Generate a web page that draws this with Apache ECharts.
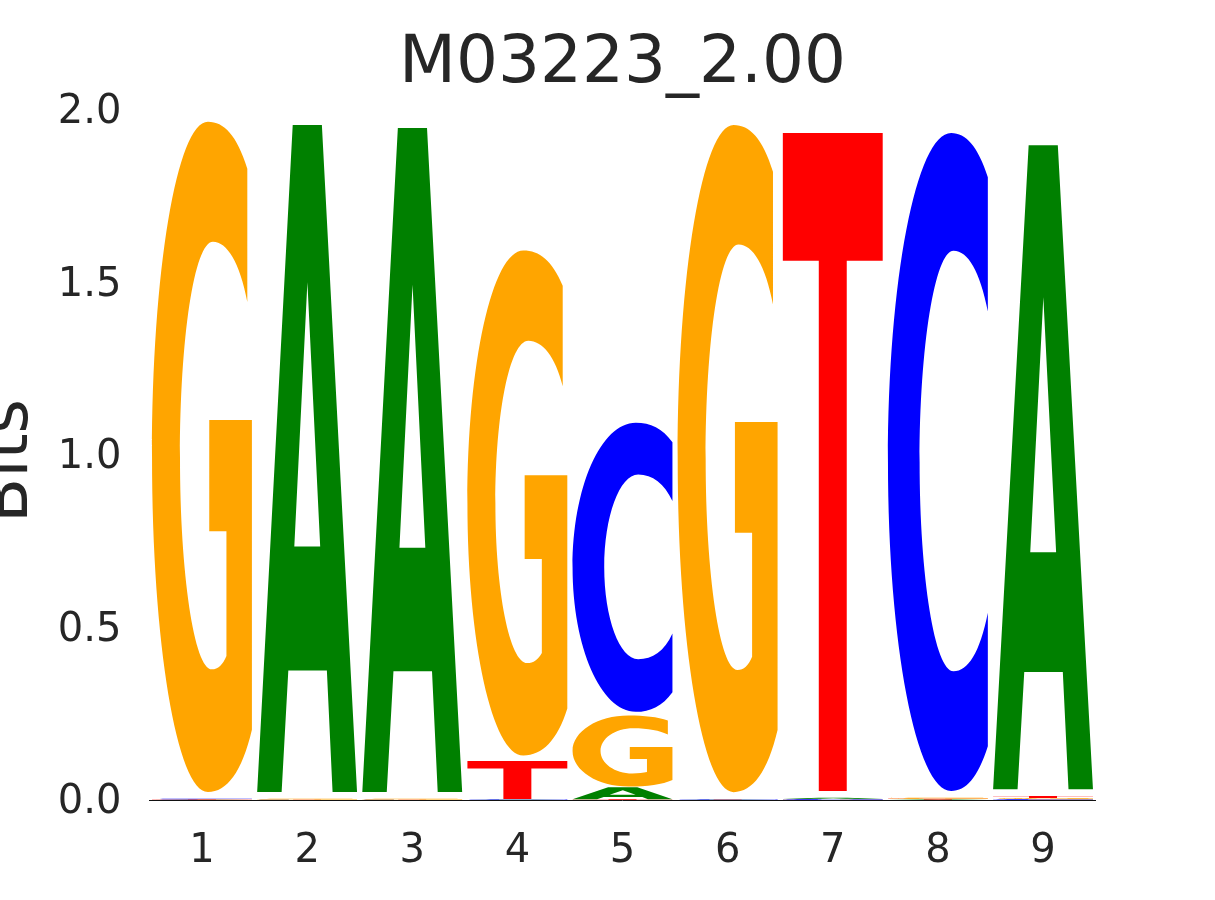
<!DOCTYPE html>
<html>
<head>
<meta charset="utf-8">
<script src="https://cdn.jsdelivr.net/npm/echarts@6/dist/echarts.min.js"></script>
<style>
html, body { margin: 0; padding: 0; background: #ffffff; }
#chart { width: 1215px; height: 900px; }
</style>
</head>
<body>
<div id="chart"></div>
<script>
// ---------------- data ----------------
const chartTitle = 'M03223_2.00';
const positions = ['1', '2', '3', '4', '5', '6', '7', '8', '9'];
// information content (bits) of each base at each position
const bitsA = [0.001, 1.973, 1.964, 0.001, 0.035, 0.001, 0.004, 0.0015, 1.905];
const bitsC = [0.0015, 0.001, 0.001, 0.001, 0.855, 0.001, 0.002, 1.946, 0.002];
const bitsG = [1.982, 0.002, 0.002, 1.494, 0.210, 1.973, 0.0007, 0.003, 0.004];
const bitsT = [0.001, 0.0005, 0.0005, 0.112, 0.002, 0.001, 1.946, 0.002, 0.006];
const yTicks = [0.0, 0.5, 1.0, 1.5, 2.0];

// ---------------- style ----------------
const letters = ['A', 'C', 'G', 'T'];
const letterColors = { A: '#008000', C: '#0000FF', G: '#FFA500', T: '#FF0000' };
const glyphWidth = 0.95;   // fraction of a column
const vpad = 0.02;         // vertical whitespace inside each glyph box
const textColor = '#262626';
const fontFamily = "'DejaVu Sans', 'Liberation Sans', sans-serif";

// glyph outlines in a 100 x 100 box (y down)
const glyphPaths = {
  A: 'M35.6 0 L64.8 0 L100 100 L75.5 100 L69.8 81.8 L31.2 81.8 L24.5 100 L0 100 Z ' +
     'M50.3 23.6 L37.2 63.2 L63.1 63.2 Z',
  C: 'M100 6.7 C90 2 78 0 63.3 0 C28.4 0 0 22.4 0 50 C0 77.6 28.4 100 63.3 100 ' +
     'C78 100 90 98 100 93.2 L100 72.9 C92 79 80 81.8 65.7 81.8 ' +
     'C47 81.8 31.7 67.5 31.7 50 C31.7 32.5 47 17.9 65.7 17.9 C80 17.9 92 21 100 27.1 Z',
  G: 'M95.4 7 C85 2 72 0 56 0 C25 0 0 22.4 0 50 C0 77.6 25 100 56 100 ' +
     'C75 100 90 97 100 90.7 L100 44.5 L57.3 44.5 L57.3 61.1 L74.5 61.1 L74.5 79.7 ' +
     'C71 81 66 81.7 60 81.7 C42.3 81.7 28 67.4 28 50 C28 32.4 42.3 17.9 61 17.9 ' +
     'C75 17.9 88 21 95.4 26.9 Z',
  T: 'M0 0 L100 0 L100 19.4 L64 19.4 L64 100 L36 100 L36 19.4 L0 19.4 Z'
};

// ---------------- build stacked glyph boxes ----------------
const seriesBits = { A: bitsA, C: bitsC, G: bitsG, T: bitsT };
const glyphData = [];
positions.forEach(function (p, i) {
  const col = letters.map(function (L, li) { return [li, seriesBits[L][i]]; })
    .sort(function (a, b) { return a[1] - b[1]; });
  let base = 0;
  col.forEach(function (c) {
    glyphData.push([i, base, base + c[1], c[0]]);
    base += c[1];
  });
});

const chart = echarts.init(document.getElementById('chart'), null, { renderer: 'canvas' });

chart.setOption({
  animation: false,
  backgroundColor: '#ffffff',
  title: {
    text: chartTitle,
    left: 622.5,
    top: 32,
    padding: 0,
    textAlign: 'center',
    textVerticalAlign: 'top',
    textStyle: { fontFamily: fontFamily, fontSize: 66, fontWeight: 'normal', color: textColor }
  },
  grid: {
    left: 149.4, right: 119.4, top: 110, bottom: 100,
    containLabel: false,
    outerBoundsMode: 'none'
  },
  xAxis: {
    type: 'category',
    data: positions,
    boundaryGap: true,
    axisTick: { show: false },
    axisLine: { show: true, lineStyle: { color: '#111111', width: 1 } },
    splitLine: { show: false },
    axisLabel: { fontFamily: fontFamily, fontSize: 40, color: textColor, margin: 32 }
  },
  yAxis: {
    type: 'value',
    min: yTicks[0],
    max: yTicks[yTicks.length - 1],
    interval: yTicks[1] - yTicks[0],
    name: 'Bits',
    nameLocation: 'middle',
    nameRotate: 90,
    nameGap: 107,
    nameTextStyle: { fontFamily: fontFamily, fontSize: 66, color: textColor, padding: [0, 12, 0, 0] },
    axisLine: { show: false },
    axisTick: { show: false },
    splitLine: { show: false },
    axisLabel: {
      fontFamily: fontFamily, fontSize: 40, color: textColor, margin: 28,
      verticalAlign: 'top',
      lineHeight: 6,
      formatter: function (v) { return v.toFixed(1); }
    }
  },
  series: [{
    type: 'custom',
    data: glyphData,
    encode: { x: 0, y: [1, 2] },
    renderItem: function (params, api) {
      const i = api.value(0);
      const y0 = api.value(1);
      const y1 = api.value(2);
      const L = letters[api.value(3)];
      const bw = api.size([1, 0])[0] * glyphWidth;
      const pb = api.coord([i, y0]);
      const pt = api.coord([i, y1]);
      const h = pb[1] - pt[1];
      if (!(h > 0)) { return null; }
      const pad = h * vpad / 2;
      return {
        type: 'path',
        shape: {
          pathData: glyphPaths[L],
          x: pb[0] - bw / 2,
          y: pt[1] + pad,
          width: bw,
          height: h - 2 * pad,
          layout: 'cover'
        },
        style: { fill: letterColors[L] }
      };
    }
  }]
});
</script>
</body>
</html>
